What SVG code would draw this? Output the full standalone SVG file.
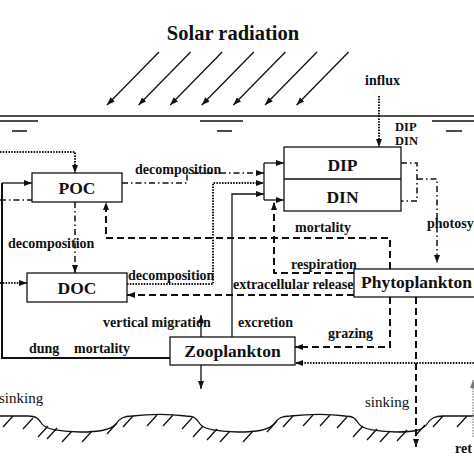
<svg xmlns="http://www.w3.org/2000/svg" width="474" height="474" viewBox="0 0 474 474">
<style>
.bg{fill:#fff}
.box{fill:#fff;stroke:#111;stroke-width:1.3}
.solid{fill:none;stroke:#111;stroke-width:1.3}
.thick{fill:none;stroke:#111;stroke-width:2}
.dot{fill:none;stroke:#111;stroke-width:2;stroke-dasharray:1.5 1.3}
.dash{fill:none;stroke:#111;stroke-width:2;stroke-dasharray:7 4}
.dd{fill:none;stroke:#111;stroke-width:1.5;stroke-dasharray:6 3 1.5 3}
.gdot{fill:none;stroke:#999;stroke-width:1.5;stroke-dasharray:1.5 1.3}
.title{font-family:"Liberation Serif","Times New Roman",serif;font-weight:bold;font-size:20.5px;fill:#111}
.node{font-family:"Liberation Serif","Times New Roman",serif;font-weight:bold;font-size:17.5px;fill:#111}
.lab{font-family:"Liberation Serif","Times New Roman",serif;font-weight:bold;font-size:14px;fill:#111}
.sm{font-family:"Liberation Serif","Times New Roman",serif;font-weight:bold;font-size:12.5px;fill:#111}
.reg{font-family:"Liberation Serif","Times New Roman",serif;font-size:15px;fill:#111}
</style>
<defs>
<marker id="ah" viewBox="0 0 8 6" refX="8" refY="3" markerWidth="8" markerHeight="6" markerUnits="userSpaceOnUse" orient="auto"><path d="M0,0 L8,3 L0,6 z" fill="#111"/></marker>
<marker id="ahg" viewBox="0 0 8 6" refX="8" refY="3" markerWidth="8" markerHeight="6" markerUnits="userSpaceOnUse" orient="auto"><path d="M0,0 L8,3 L0,6 z" fill="#777"/></marker>
</defs>
<rect class="bg" x="0" y="0" width="474" height="474"/>

<g id="title"><text class="title" x="233" y="40" text-anchor="middle">Solar radiation</text></g>

<g id="sun">
<path class="solid" marker-end="url(#ah)" d="M159,52 L107,105"/>
<path class="solid" marker-end="url(#ah)" d="M190.6,52 L138.6,105"/>
<path class="solid" marker-end="url(#ah)" d="M222.2,52 L170.2,105"/>
<path class="solid" marker-end="url(#ah)" d="M253.8,52 L201.8,105"/>
<path class="solid" marker-end="url(#ah)" d="M285.4,52 L233.4,105"/>
<path class="solid" marker-end="url(#ah)" d="M317,52 L265,105"/>
<path class="solid" marker-end="url(#ah)" d="M348.6,52 L296.6,105"/>
</g>

<g id="surface">
<path class="solid" d="M0,116 L474,116"/>
<path class="solid" d="M0,121 L38,121 M12,131 L27,131"/>
<path class="solid" d="M200,121 L243,121 M217,131 L232,131"/>
<path class="solid" d="M432,121 L474,121 M446,131 L462,131"/>
</g>

<g id="seabed">
<path class="solid" d="M0,416 L28,416 C36,416 38,418 42,424 C46,430 60,431 80,432 C100,432 110,430 116,424 C120,418 124,416 132,416 C150,414 170,414 186,416 C194,416 196,418 200,424 C204,430 218,431 238,432 C258,432 268,430 274,424 C278,418 282,416 290,416 C310,414 330,414 345,416 C353,416 355,418 359,424 C363,430 377,431 397,432 C415,432 423,430 427,424 C431,418 435,416 443,416 L474,416"/>
<path class="solid" d="M13,416 l-10,11 M33,418 l-10,11 M48,426 l-10,11 M57,428 l-10,11 M72,431 l-10,11 M92,431 l-10,11 M117,423 l-10,11 M133,416 l-10,11 M157,415 l-10,11 M173,415 l-10,11 M192,418 l-10,11 M203,426 l-10,11 M217,429 l-10,11 M230,431 l-10,11 M253,431 l-10,11 M277,421 l-10,11 M293,416 l-10,11 M313,415 l-10,11 M330,415 l-10,11 M347,417 l-10,11 M363,426 l-10,11 M377,429 l-10,11 M390,431 l-10,11 M407,430 l-10,11 M425,425 l-10,11 M443,416 l-10,11 M467,416 l-10,11"/>
</g>

<g id="connectors">
<path class="dot" marker-end="url(#ah)" d="M379,96 L379,147"/>
<path class="dot" marker-end="url(#ah)" d="M0,152 L75,152 L75,173"/>
<path class="dd" d="M0,200 L32,200"/>
<path class="thick" d="M170,358 L2,358 L2,183"/>
<path class="solid" marker-end="url(#ah)" d="M2,183 L32,183"/>
<path class="dot" marker-end="url(#ah)" d="M0,283 L27,283"/>
<path class="dd" marker-end="url(#ah)" d="M75,202 L75,273"/>
<path class="dd" marker-end="url(#ah)" d="M122,183 L187,183 L187,173 L264,173"/>
<path class="dot" marker-end="url(#ah)" d="M127,284 L213,284 L213,183 L264,183"/>
<path class="solid" marker-end="url(#ah)" d="M232,337 L232,194 L264,194"/>
<path class="solid" d="M264,163 L264,200"/>
<path class="solid" marker-end="url(#ah)" d="M264,163 L284,163"/>
<path class="solid" marker-end="url(#ah)" d="M264,200 L284,200"/>
<path class="dash" marker-end="url(#ah)" d="M354,273 L274,273 L274,202"/>
<path class="dash" marker-end="url(#ah)" d="M390,269 L390,238 L106,238 L106,202"/>
<path class="dash" marker-end="url(#ah)" d="M354,295 L127,295"/>
<path class="dd" d="M401,163 L417,163 L417,201 L401,201"/>
<path class="dd" marker-end="url(#ah)" d="M417,179 L437,179 L437,263"/>
<path class="dash" marker-end="url(#ah)" d="M390,297 L390,347 L295,347"/>
<path class="dash" marker-end="url(#ah)" d="M416,297 L416,447"/>
<path class="dot" marker-end="url(#ah)" d="M474,363 L295,363"/>
<path class="gdot" marker-end="url(#ahg)" d="M473,437 L473,380"/>
<path class="solid" marker-end="url(#ah)" d="M201,337 L201,315"/>
<path class="solid" marker-end="url(#ah)" d="M201,365 L201,389"/>
</g>

<g id="POC"><rect class="box" x="32" y="173" width="90" height="29"/><text class="node" x="77" y="194" text-anchor="middle">POC</text></g>
<g id="DOC"><rect class="box" x="27" y="273" width="100" height="29"/><text class="node" x="77" y="294" text-anchor="middle">DOC</text></g>
<g id="DIPDIN"><rect class="box" x="284" y="147" width="117" height="64"/><path class="solid" d="M284,179 L401,179"/><text class="node" x="342.5" y="171" text-anchor="middle">DIP</text><text class="node" x="342.5" y="203" text-anchor="middle">DIN</text></g>
<g id="Phytoplankton"><rect class="box" x="354" y="269" width="130" height="28"/><text class="node" x="361" y="288">Phytoplankton</text></g>
<g id="Zooplankton"><rect class="box" x="170" y="337" width="125" height="28"/><text class="node" x="232.5" y="357" text-anchor="middle">Zooplankton</text></g>

<g id="labels">
<text class="lab" x="365" y="85">influx</text>
<text class="sm" x="395" y="131">DIP</text>
<text class="sm" x="395" y="145">DIN</text>
<text class="lab" x="135" y="174">decomposition</text>
<text class="lab" x="8" y="248">decomposition</text>
<text class="lab" x="128" y="280">decomposition</text>
<text class="lab" x="295" y="232">mortality</text>
<text class="lab" x="291" y="269">respiration</text>
<text class="lab" x="233" y="289">extracellular release</text>
<text class="lab" x="427" y="228">photosy</text>
<text class="lab" x="103" y="327">vertical migration</text>
<text class="lab" x="238" y="327">excretion</text>
<text class="lab" x="328" y="338">grazing</text>
<text class="lab" x="29" y="353">dung</text>
<text class="lab" x="74" y="353">mortality</text>
<text class="reg" x="-1" y="403">sinking</text>
<text class="reg" x="365" y="407">sinking</text>
<text class="lab" x="455" y="453">ret</text>
</g>
</svg>
